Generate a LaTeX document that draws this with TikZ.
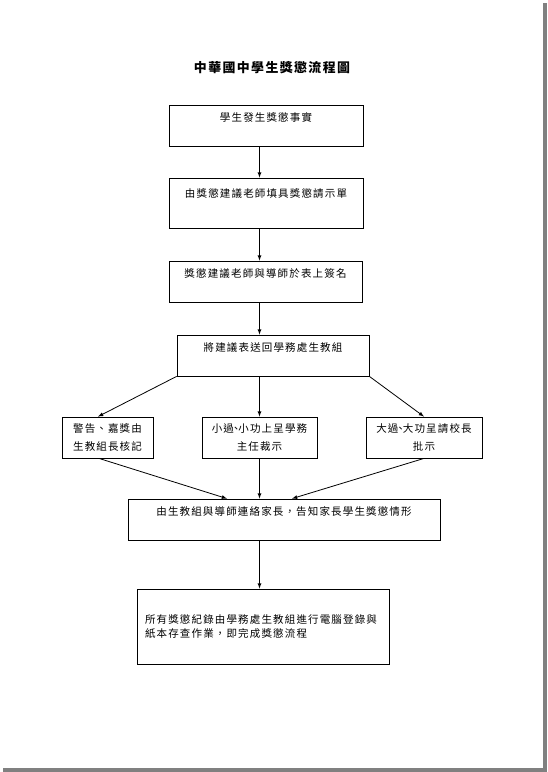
\documentclass[tikz,border=0pt]{standalone}
\usepackage{fontspec}
\newfontfamily\cjk{Noto Sans CJK TC}[LetterSpace=11]

\begin{document}
\begin{tikzpicture}[x=1pt, y=-1pt, >=latex, line width=0.8pt,
    box/.style={draw, inner sep=0pt, minimum height=41pt, align=center, font=\cjk\fontsize{10.5}{12.5}\selectfont},
    upper/.style={text height=9pt, text depth=18pt}]
  \useasboundingbox (0,0) rectangle (547,772);
  \fill[black!50] (543,3) rectangle (547,772);
  \fill[black!50] (3,768) rectangle (547,772);

  \node(title)  at (272,68) {\cjk\fontsize{12.9}{15}\selectfont\bfseries 中華國中學生獎懲流程圖};

  \node[box, upper, minimum width=194pt] (fact) at (266,125.5) {學生發生獎懲事實};
  \node[box, upper, minimum width=194pt, minimum height=50pt, text depth=20pt] (form) at (266,203) {由獎懲建議老師填具獎懲請示單};
  \node[box, upper, minimum width=193pt] (sign) at (265.5,281.5) {獎懲建議老師與導師於表上簽名};
  \node[box, upper, minimum width=192pt] (back) at (273,355.5) {將建議表送回學務處生教組};
  \node[box, minimum width=91pt]  (warn)  at (107.5,437.5) {警告、嘉獎由\\[5.5pt]生教組長核記};
  \node[box, minimum width=115pt] (minor) at (259.5,437.5) {小過\kern-3pt、\kern-3pt小功上呈學務\\[5.5pt]主任裁示};
  \node[box, minimum width=116pt] (major) at (424,437.5) {大過\kern-3pt、\kern-3pt大功呈請校長\\[5.5pt]批示};
  \node[box, upper, minimum width=312pt] (parent) at (284,519.5) {由生教組與導師連絡家長，告知家長學生獎懲情形};
  \node[box, minimum width=252pt, minimum height=75pt, text width=236pt, align=left] (file) at (263,626.5) {所有獎懲紀錄由學務處生教組進行電腦登錄與\\[1.5pt]紙本存查作業，即完成獎懲流程};

  \draw[->] (fact.south -| minor) to (form.north -| minor);
  \draw[->] (form.south -| minor) to (sign.north -| minor);
  \draw[->] (sign.south -| minor) to (back.north -| minor);
  \draw[->] (back.south west) to ([xshift=-9.5pt]warn.north);
  \draw[->] (back.south -| minor) to (minor.north);
  \draw[->] (back.south east) to (major.north);
  \draw[->] ([xshift=-8.5pt]warn.south) to ([xshift=-57pt]parent.north);
  \draw[->] (minor.south) to (parent.north -| minor);
  \draw[->] (major.south) to ([xshift=8pt]parent.north);
  \draw[->] (parent.south -| minor) to (file.north -| minor);
\end{tikzpicture}
\end{document}
